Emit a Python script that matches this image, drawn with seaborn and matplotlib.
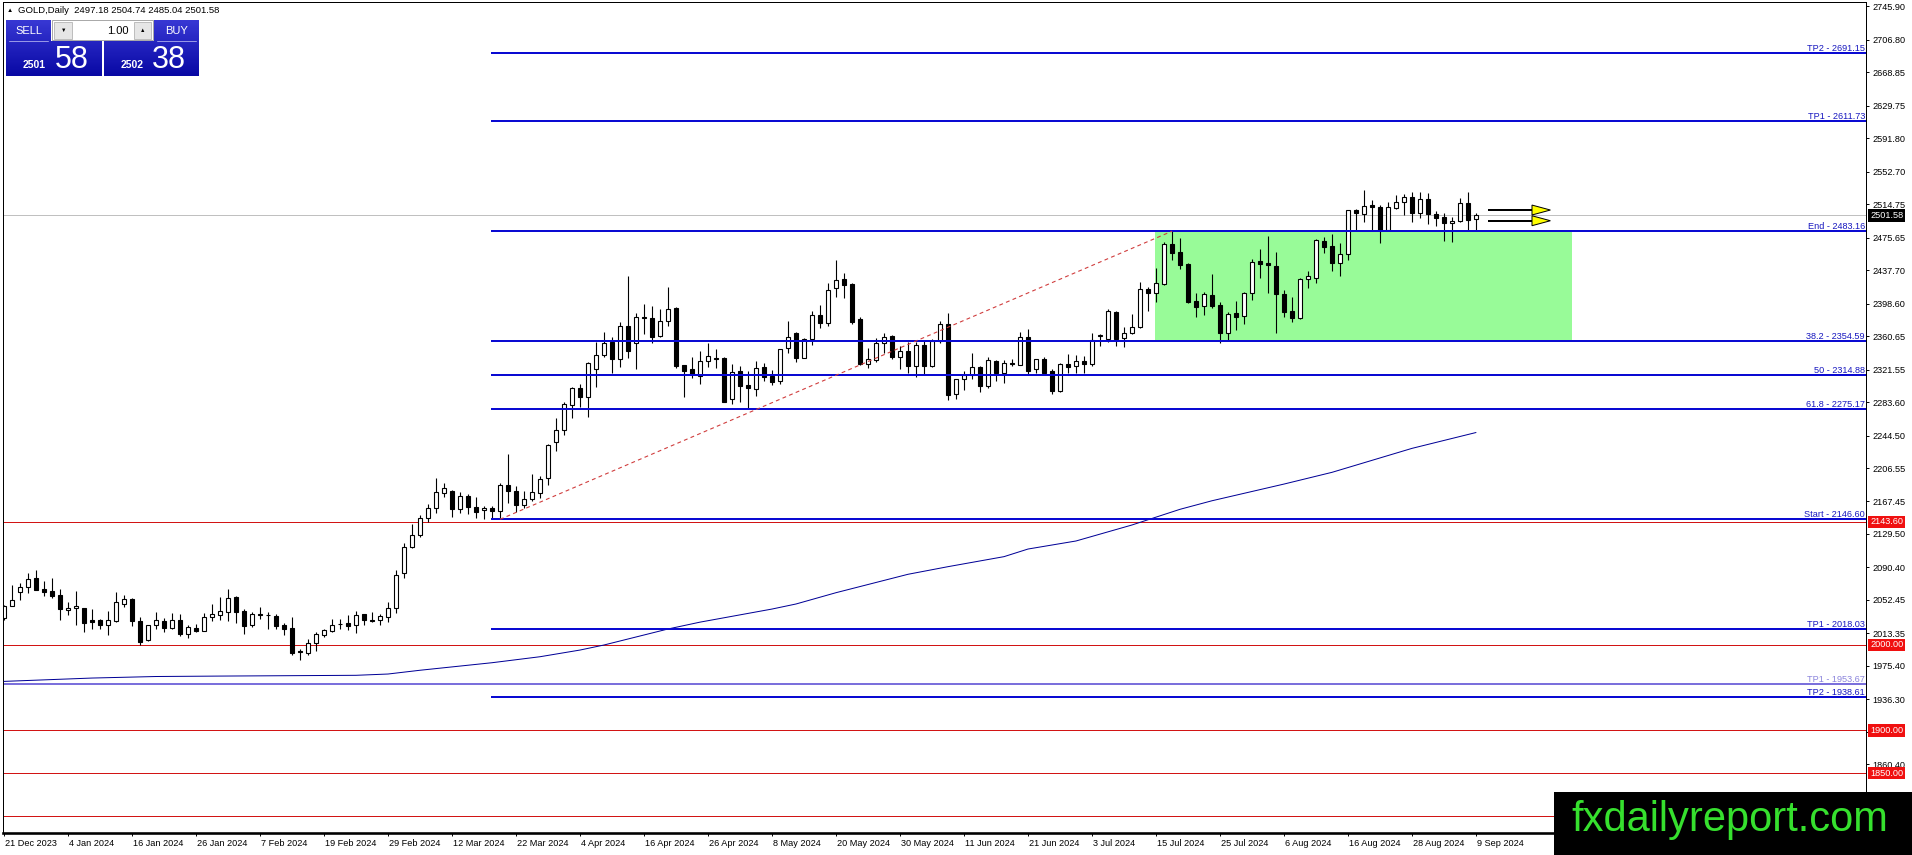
import numpy as np
import pandas as pd
import seaborn as sns
import matplotlib
matplotlib.use('Agg')
import matplotlib.pyplot as plt
import matplotlib.transforms as mtransforms
from matplotlib.patches import Rectangle, Polygon
from matplotlib.colors import LinearSegmentedColormap

# ---- daily candles, bar 0 = 21 Dec 2023, last bar = 9 Sep 2024 ----
opens = [2031.0, 2045.7, 2062.1, 2067.1, 2078.1, 2065.2, 2062.9, 2058.2, 2040.3, 2042.6,
         2043.0, 2028.6, 2028.6, 2023.5, 2028.2, 2047.3, 2053.5, 2027.4, 2005.2, 2022.8,
         2027.4, 2020.0, 2028.6, 2012.2, 2019.6, 2016.5, 2032.1, 2035.2, 2038.7, 2055.9,
         2039.1, 2023.5, 2036.0, 2035.2, 2033.6, 2022.8, 2019.3, 1992.4, 1990.8, 2002.5,
         2011.1, 2016.5, 2024.7, 2025.5, 2022.8, 2036.0, 2028.9, 2029.4, 2032.9, 2042.6,
         2083.5, 2114.0, 2128.0, 2147.7, 2159.4, 2177.0, 2180.1, 2158.2, 2173.8, 2160.6,
         2157.1, 2159.4, 2156.7, 2186.7, 2180.1, 2163.0, 2170.3, 2177.7, 2194.5, 2237.3,
         2250.5, 2280.1, 2299.6, 2289.8, 2321.8, 2338.5, 2354.1, 2333.9, 2372.4, 2352.2,
         2383.3, 2381.4, 2360.3, 2378.3, 2393.9, 2326.9, 2322.2, 2314.0, 2331.5, 2335.0,
         2334.7, 2286.8, 2319.4, 2303.5, 2298.4, 2324.1, 2314.0, 2308.5, 2346.4, 2364.3,
         2335.4, 2356.9, 2385.3, 2375.5, 2416.4, 2427.0, 2421.1, 2380.2, 2327.6, 2332.3,
         2352.2, 2360.8, 2336.6, 2343.2, 2326.1, 2350.2, 2326.1, 2354.9, 2375.1, 2292.6,
         2310.5, 2315.2, 2324.1, 2302.7, 2331.5, 2317.9, 2329.6, 2326.9, 2359.2, 2321.8,
         2333.5, 2319.8, 2296.9, 2327.6, 2326.1, 2331.5, 2328.4, 2361.0, 2356.9, 2389.2,
         2358.0, 2363.9, 2370.8, 2415.7, 2410.6, 2421.5, 2467.8, 2458.4, 2444.8, 2401.2,
         2395.7, 2408.6, 2396.9, 2363.8, 2387.2, 2384.1, 2410.5, 2447.9, 2445.6, 2442.9,
         2409.8, 2389.9, 2382.1, 2426.9, 2428.8, 2471.7, 2465.8, 2446.4, 2456.1, 2507.9,
         2502.8, 2513.7, 2511.8, 2484.5, 2510.6, 2517.6, 2523.5, 2504.0, 2520.7, 2502.8,
         2499.7, 2492.3, 2495.0, 2515.7, 2497.18]
highs = [2047.0, 2069.9, 2071.8, 2083.5, 2087.4, 2074.5, 2078.4, 2065.2, 2050.4, 2062.9,
         2043.5, 2041.8, 2030.5, 2039.5, 2062.1, 2058.2, 2055.1, 2032.9, 2023.5, 2038.3,
         2031.3, 2036.8, 2036.0, 2023.5, 2024.3, 2036.8, 2047.7, 2055.9, 2065.2, 2057.0,
         2041.8, 2038.7, 2044.2, 2038.3, 2036.0, 2025.5, 2032.5, 1994.7, 2007.2, 2014.6,
         2018.5, 2029.8, 2030.5, 2034.4, 2039.9, 2036.5, 2037.9, 2036.0, 2049.6, 2087.4,
         2118.6, 2141.0, 2151.6, 2164.1, 2194.4, 2188.6, 2180.6, 2178.9, 2175.8, 2172.3,
         2162.5, 2162.5, 2188.6, 2222.5, 2185.1, 2180.1, 2199.1, 2197.2, 2234.2, 2264.5,
         2284.0, 2301.5, 2304.3, 2330.7, 2354.1, 2365.0, 2359.2, 2376.7, 2430.8, 2387.2,
         2397.7, 2395.8, 2391.9, 2418.4, 2394.4, 2327.4, 2336.6, 2343.6, 2352.2, 2345.2,
         2335.8, 2328.0, 2325.7, 2319.8, 2331.5, 2328.8, 2320.6, 2346.0, 2378.3, 2365.0,
         2358.8, 2390.3, 2397.0, 2422.3, 2449.5, 2434.0, 2422.3, 2382.6, 2346.4, 2358.0,
         2364.7, 2361.9, 2349.1, 2354.1, 2354.1, 2354.9, 2356.9, 2378.3, 2387.2, 2311.0,
         2319.8, 2341.3, 2326.1, 2336.6, 2332.7, 2332.7, 2333.9, 2365.8, 2368.5, 2334.0,
         2336.6, 2321.8, 2329.6, 2339.3, 2338.5, 2337.4, 2364.7, 2363.5, 2391.9, 2389.9,
         2371.6, 2386.4, 2424.2, 2418.4, 2439.8, 2470.2, 2483.2, 2474.8, 2445.5, 2410.5,
         2412.5, 2432.7, 2400.8, 2389.1, 2402.0, 2412.5, 2450.6, 2461.9, 2477.5, 2459.2,
         2414.4, 2405.9, 2428.1, 2436.6, 2473.5, 2476.7, 2479.5, 2469.0, 2508.5, 2509.1,
         2531.3, 2519.6, 2513.7, 2517.6, 2525.4, 2526.2, 2528.5, 2528.5, 2527.4, 2506.7,
         2504.0, 2500.1, 2522.3, 2529.3, 2504.74]
lows = [2029.0, 2045.0, 2052.7, 2060.1, 2063.6, 2057.4, 2055.1, 2029.4, 2034.8, 2023.5,
        2015.0, 2018.9, 2018.9, 2011.5, 2027.0, 2044.6, 2022.4, 1999.8, 2004.6, 2018.9,
        2015.0, 2018.1, 2009.9, 2008.3, 2015.0, 2016.0, 2028.2, 2029.4, 2027.8, 2025.9,
        2013.0, 2021.2, 2029.8, 2018.9, 2018.9, 2011.5, 1988.1, 1982.3, 1988.1, 1993.2,
        2009.5, 2014.6, 2018.9, 2017.3, 2013.8, 2023.5, 2026.6, 2023.5, 2026.6, 2037.2,
        2078.4, 2113.0, 2126.0, 2143.8, 2153.6, 2173.1, 2149.7, 2154.4, 2152.4, 2147.7,
        2146.8, 2147.2, 2146.6, 2165.3, 2155.6, 2160.2, 2168.0, 2171.1, 2186.7, 2226.8,
        2245.1, 2264.5, 2278.2, 2266.5, 2301.5, 2335.8, 2317.9, 2324.1, 2334.7, 2322.2,
        2362.7, 2352.9, 2359.8, 2372.4, 2323.7, 2289.9, 2311.3, 2304.3, 2324.9, 2323.7,
        2283.5, 2280.9, 2284.0, 2276.2, 2291.0, 2308.2, 2303.5, 2304.7, 2340.5, 2330.8,
        2334.7, 2350.2, 2369.7, 2372.4, 2406.7, 2405.5, 2374.4, 2327.0, 2323.8, 2330.8,
        2340.5, 2333.5, 2321.8, 2317.9, 2313.2, 2316.7, 2324.9, 2352.2, 2286.0, 2286.8,
        2297.7, 2310.1, 2294.9, 2299.6, 2308.5, 2305.4, 2326.1, 2326.4, 2316.0, 2317.1,
        2317.1, 2292.6, 2295.7, 2317.9, 2317.9, 2317.9, 2325.7, 2349.5, 2354.1, 2349.4,
        2348.3, 2362.7, 2369.7, 2389.9, 2400.9, 2420.3, 2449.5, 2439.0, 2399.5, 2383.3,
        2385.2, 2393.0, 2352.1, 2356.0, 2367.7, 2374.7, 2402.8, 2428.1, 2410.5, 2363.8,
        2383.3, 2377.4, 2380.2, 2416.4, 2423.0, 2457.3, 2437.0, 2431.2, 2449.5, 2484.5,
        2494.3, 2484.5, 2469.7, 2484.0, 2509.1, 2502.1, 2493.5, 2498.2, 2491.2, 2489.6,
        2471.7, 2470.9, 2493.5, 2484.5, 2485.04]
closes = [2045.3, 2052.0, 2067.5, 2076.9, 2064.4, 2061.3, 2057.0, 2041.5, 2043.0, 2045.3,
          2025.9, 2026.6, 2023.5, 2028.6, 2049.6, 2053.1, 2028.2, 2003.3, 2022.8, 2028.6,
          2020.0, 2028.6, 2012.2, 2020.4, 2016.5, 2032.1, 2036.0, 2039.1, 2054.7, 2038.7,
          2022.4, 2036.0, 2034.4, 2034.4, 2022.4, 2018.9, 1990.8, 1991.6, 2002.5, 2012.6,
          2017.3, 2023.1, 2023.9, 2022.4, 2034.4, 2029.4, 2027.8, 2033.6, 2042.6, 2081.2,
          2113.9, 2128.0, 2147.7, 2159.4, 2178.1, 2182.8, 2158.2, 2173.8, 2160.6, 2154.8,
          2159.4, 2156.7, 2186.7, 2180.1, 2163.7, 2169.9, 2178.9, 2193.3, 2233.4, 2250.5,
          2280.9, 2299.6, 2289.8, 2328.8, 2338.5, 2352.2, 2333.5, 2372.4, 2343.6, 2382.6,
          2381.4, 2359.9, 2378.3, 2391.9, 2326.1, 2320.3, 2316.7, 2331.5, 2337.4, 2334.3,
          2284.0, 2318.3, 2302.7, 2300.4, 2323.0, 2313.2, 2307.4, 2345.2, 2360.0, 2335.4,
          2356.9, 2385.3, 2375.5, 2414.1, 2425.8, 2419.9, 2377.5, 2327.6, 2333.5, 2352.2,
          2360.0, 2336.6, 2343.2, 2326.1, 2350.2, 2326.1, 2354.9, 2375.1, 2291.8, 2310.5,
          2315.2, 2324.1, 2302.7, 2332.7, 2317.9, 2329.6, 2328.0, 2359.2, 2320.3, 2333.5,
          2317.9, 2296.9, 2327.6, 2324.9, 2331.5, 2328.0, 2356.1, 2361.8, 2390.3, 2357.2,
          2363.9, 2370.8, 2415.3, 2410.6, 2422.3, 2467.8, 2458.1, 2443.6, 2400.0, 2395.0,
          2409.8, 2396.1, 2363.8, 2386.0, 2383.3, 2410.5, 2446.8, 2445.2, 2443.3, 2409.4,
          2389.1, 2382.1, 2426.9, 2430.8, 2472.8, 2464.3, 2446.4, 2456.1, 2507.9, 2504.0,
          2513.0, 2511.8, 2484.5, 2511.8, 2517.6, 2523.5, 2504.0, 2520.7, 2502.8, 2498.9,
          2492.3, 2495.0, 2515.7, 2496.2, 2501.58]

# moving average, read at a few bars
ma_bars = [0, 11, 19, 27, 44, 48, 52, 61, 67, 72, 75, 83, 87, 96, 99, 104, 113, 118,
           125, 128, 134, 141, 147, 151, 160, 166, 176, 184]
ma_values = [1957.3, 1961.2, 1963.0, 1963.5, 1964.4, 1965.9, 1970.3, 1979.1, 1986.1,
             1993.9, 1999.8, 2018.5, 2026.5, 2041.8, 2047.7, 2060.9, 2082.4, 2091.3,
             2103.0, 2111.9, 2121.3, 2140.0, 2158.3, 2168.3, 2187.8, 2201.5,
             2229.5, 2248.0]

date_labels = ['21 Dec 2023', '4 Jan 2024', '16 Jan 2024', '26 Jan 2024', '7 Feb 2024',
               '19 Feb 2024', '29 Feb 2024', '12 Mar 2024', '22 Mar 2024', '4 Apr 2024',
               '16 Apr 2024', '26 Apr 2024', '8 May 2024', '20 May 2024', '30 May 2024',
               '11 Jun 2024', '21 Jun 2024', '3 Jul 2024', '15 Jul 2024', '25 Jul 2024',
               '6 Aug 2024', '16 Aug 2024', '28 Aug 2024', '9 Sep 2024']
date_bars = list(range(0, 8 * len(date_labels), 8))

price_ticks = [2745.90, 2706.80, 2668.85, 2629.75, 2591.80, 2552.70, 2514.75, 2475.65,
               2437.70, 2398.60, 2360.65, 2321.55, 2283.60, 2244.50, 2206.55, 2167.45,
               2129.50, 2090.40, 2052.45, 2013.35, 1975.40, 1936.30, 1898.35, 1860.40]

# fibo / target levels (drawn from the start anchor)
fib_names = ['TP2', 'TP1', 'End', '38.2', '50', '61.8', 'Start', 'TP1', 'TP2']
fib_levels = [2691.15, 2611.73, 2483.16, 2354.59, 2314.88, 2275.17, 2146.60, 2018.03, 1938.61]
old_tp_level = 1953.67
red_levels = [2143.60, 2000.00, 1900.00, 1850.00, 1800.00]
red_tags = [2143.60, 2000.00, 1900.00, 1850.00]
bid = 2501.58
trend_bars = [62, 146]
trend_prices = [2146.60, 2483.16]
zone_bars = [143.9, 196.0]
zone_prices = [2354.59, 2483.16]
arrow_prices = [2507.9, 2495.4]
arrow_bars = [185.5, 191.0, 193.3]
fib_start_bar = 60.9

df = pd.DataFrame({'open': opens, 'high': highs, 'low': lows, 'close': closes})
df['bar'] = np.arange(len(df))

sns.set_theme(style='white')
plt.rcParams['font.family'] = ['Liberation Sans', 'DejaVu Sans']

W, H = 1912, 855
fig = plt.figure(figsize=(W / 100, H / 100), dpi=100, facecolor='white')
ax = fig.add_axes([2.7 / W, (H - 833) / H, (1866 - 2.7) / W, (833 - 2) / H])
ax.set_facecolor('white')
ax.set_xlim(-0.16, 232.75)
ax.set_ylim(1780.2, 2750.9)

px = 0.72  # one pixel in points
blue = '#0a0ad2'
txt_blue = '#1818c0'

# zone rectangle behind everything
ax.add_patch(Rectangle((zone_bars[0], zone_prices[0]), zone_bars[1] - zone_bars[0],
                       zone_prices[1] - zone_prices[0], facecolor='#98fb98',
                       edgecolor='none', zorder=0.5))

# bid line and round-number lines
ax.axhline(bid, color='#c0c0c0', lw=px, zorder=1)
for lv in red_levels:
    ax.axhline(lv, color='#d21414', lw=px, zorder=1.2)
ax.axhline(old_tp_level, color='#7b70dc', lw=2 * px, zorder=1.2)

# candles
bull = df['close'] >= df['open']
body_lo = df[['open', 'close']].min(axis=1)
body_h = (df['close'] - df['open']).abs().clip(lower=0.8)
ax.vlines(df['bar'], df['low'], df['high'], color='black', lw=1.1 * px, zorder=2)
ax.bar(df['bar'], body_h, bottom=body_lo, width=0.42,
       color=np.where(bull, 'white', 'black'), edgecolor='black', linewidth=1.1 * px, zorder=2.1)

# moving average
sns.lineplot(x=ma_bars, y=ma_values, ax=ax, color='#000096', lw=1.0 * px, zorder=3)

# fibo levels
ax.hlines(fib_levels, fib_start_bar, 232.75, colors=blue, lw=2 * px, zorder=3)
ax.plot(trend_bars, trend_prices, color='#d03c3c', lw=1.1 * px, ls=(0, (3.5, 3)), zorder=3)

lbl_tr = mtransforms.blended_transform_factory(ax.transAxes, ax.transData) + \
    mtransforms.ScaledTranslation(-1 / 100, 2 / 100, fig.dpi_scale_trans)
for name, lv in zip(fib_names, fib_levels):
    ax.text(1.0, lv, f'{name} - {lv:.2f}', transform=lbl_tr, ha='right', va='baseline',
            fontsize=6.6, color=txt_blue, zorder=4)
ax.text(1.0, old_tp_level, f'TP1 - {old_tp_level:.2f}', transform=lbl_tr, ha='right',
        va='baseline', fontsize=6.6, color='#8b84dc', zorder=4)

# arrows
for lv in arrow_prices:
    ax.plot(arrow_bars[:2], [lv, lv], color='black', lw=2 * px, zorder=4,
            solid_capstyle='butt')
    ax.add_patch(Polygon([(arrow_bars[1], lv + 5.8), (arrow_bars[2], lv),
                          (arrow_bars[1], lv - 5.8)], closed=True, facecolor='#ffff00',
                         edgecolor='black', lw=px, zorder=4.1))

# axes styling
for side, s in ax.spines.items():
    s.set_color('black')
    s.set_linewidth(px)
ax.spines['bottom'].set_linewidth(2.6 * px)

ax.yaxis.tick_right()
ax.set_yticks(price_ticks, labels=[f'{v:.2f}' for v in price_ticks])
ax.tick_params(axis='y', direction='out', length=2.5, width=0.7, pad=2.2,
               labelsize=6.6, colors='black', left=False, right=True)
ax.set_xticks(date_bars)
ax.tick_params(axis='x', direction='out', length=2.5, width=0.7, bottom=True,
               labelbottom=False, colors='black')
ax.set_xlabel('')
ax.set_ylabel('')

date_tr = mtransforms.blended_transform_factory(ax.transData, ax.transAxes) + \
    mtransforms.ScaledTranslation(1.5 / 100, -5.5 / 100, fig.dpi_scale_trans)
for b, lab in zip(date_bars, date_labels):
    ax.text(b, 0, lab, transform=date_tr, ha='left', va='top', fontsize=6.6, color='black')

# price boxes on the right scale
box_tr = mtransforms.blended_transform_factory(ax.transAxes, ax.transData)
box_x = 1.0 + 4.0 / 1863.3
ax.text(box_x, bid, f'{bid:.2f}', transform=box_tr, ha='left', va='center', fontsize=6.6,
        color='white', zorder=5,
        bbox=dict(boxstyle='square,pad=0.18', facecolor='black', edgecolor='none'))
for lv in red_tags:
    ax.text(box_x, lv, f'{lv:.2f}', transform=box_tr, ha='left', va='center', fontsize=6.6,
            color='white', zorder=5,
            bbox=dict(boxstyle='square,pad=0.18', facecolor='#f01010', edgecolor='none'))

# ---- overlay: header, trade panel, watermark (pixel coordinates) ----
ov = fig.add_axes([0, 0, 1, 1], zorder=10)
ov.patch.set_alpha(0)
ov.axis('off')

panel_cmap = LinearSegmentedColormap.from_list('panel', ['#3838d4', '#0808a4'])


def grad_rect(x0, x1, y0, y1):
    g = np.linspace((y0 - 20) / 56, (y1 - 20) / 56, 64).reshape(-1, 1)
    ov.imshow(g, extent=(x0, x1, y1, y0), cmap=panel_cmap, vmin=0, vmax=1,
              aspect='auto', interpolation='bilinear', zorder=1)


grad_rect(6, 51, 20, 41.7)
grad_rect(6, 101.7, 41.7, 76)
grad_rect(154.3, 199, 20, 41.7)
grad_rect(104.3, 199, 41.7, 76)
ov.add_patch(Rectangle((52.3, 20.5), 101, 20, facecolor='white', edgecolor='#a8a8a8',
                       lw=0.7, zorder=2))
ov.add_patch(Rectangle((54.5, 22), 17.5, 17, facecolor='#e6e6e6', edgecolor='#b4b4b4',
                       lw=0.6, zorder=3))
ov.add_patch(Rectangle((134, 22), 17.5, 17, facecolor='#e6e6e6', edgecolor='#b4b4b4',
                       lw=0.6, zorder=3))
ov.text(63.2, 30.5, '▼', fontsize=4, ha='center', va='center', color='black', zorder=4)
ov.text(142.7, 30.5, '▲', fontsize=4, ha='center', va='center', color='black', zorder=4)
ov.text(129, 30.5, '1.00', fontsize=8, ha='right', va='center', color='black', zorder=4)
ov.plot([9, 48], [41.5, 41.5], color='#9a9ae8', lw=0.7, zorder=4)
ov.plot([157, 196], [41.5, 41.5], color='#9a9ae8', lw=0.7, zorder=4)
ov.text(28.5, 31, 'SELL', fontsize=8, ha='center', va='center', color='white', zorder=4)
ov.text(176.7, 31, 'BUY', fontsize=8, ha='center', va='center', color='white', zorder=4)
ov.text(22.5, 68.3, '2501', fontsize=7.5, fontweight='bold', ha='left', va='baseline',
        color='white', zorder=4)
ov.text(54.5, 68.3, '58', fontsize=22, ha='left', va='baseline', color='white', zorder=4)
ov.text(120.5, 68.3, '2502', fontsize=7.5, fontweight='bold', ha='left', va='baseline',
        color='white', zorder=4)
ov.text(151.5, 68.3, '38', fontsize=22, ha='left', va='baseline', color='white', zorder=4)

ov.text(7, 10.5, '▲', fontsize=4.5, ha='left', va='center', color='black')
ov.text(18, 10.5, 'GOLD,Daily  2497.18 2504.74 2485.04 2501.58', fontsize=6.8,
        ha='left', va='center', color='black')

ov.add_patch(Rectangle((1554, 792), W - 1554, H - 792, facecolor='black', edgecolor='none',
                       zorder=5))
ov.text(1571, 831, 'fxdailyreport.com', fontsize=30, family='Liberation Sans',
        ha='left', va='baseline', color='#36e02e', zorder=6)

ov.set_xlim(0, W)
ov.set_ylim(H, 0)

fig.savefig('out.png', dpi=100, facecolor='white')
